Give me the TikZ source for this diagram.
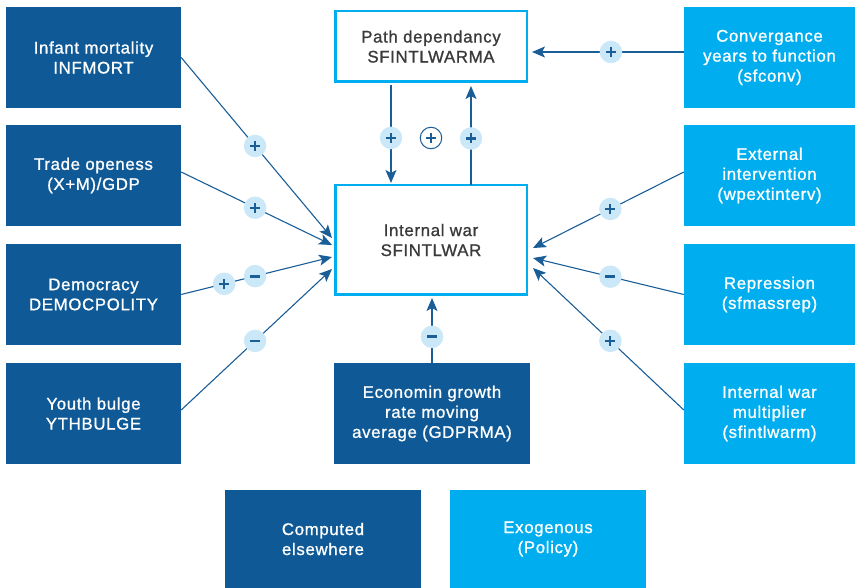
\documentclass[tikz,border=0pt]{standalone}
\usepackage{fontspec}
\setmainfont{Liberation Sans}
\newfontfamily\medf{Liberation Sans}[FakeBold=1.0, LetterSpace=4]
\usetikzlibrary{arrows.meta}
\definecolor{dkb}{HTML}{0F5A96}
\definecolor{ltb}{HTML}{00AEEF}
\definecolor{bdg}{HTML}{CBE8F8}
\definecolor{arr}{HTML}{1A5E98}
\definecolor{txt}{HTML}{3A3A3A}
\newcommand\plusmk{\makebox[0pt]{\rule[-1.1pt]{10pt}{2.2pt}}\makebox[0pt]{\rule[-5pt]{2.2pt}{10pt}}}
\newcommand\thinplusmk{\makebox[0pt]{\rule[-0.75pt]{10pt}{1.5pt}}\makebox[0pt]{\rule[-5pt]{1.5pt}{10pt}}}
\newcommand\minusmk{\makebox[0pt]{\rule[-1.4pt]{10pt}{2.8pt}}}
\begin{document}
\begin{tikzpicture}[x=1pt,y=-1pt,
 box/.style={inner sep=0pt, align=center, text=white, font=\medf\fontsize{16.8}{20}\selectfont},
 dkbox/.style={box, fill=dkb, minimum width=175pt, minimum height=101pt},
 ltbox/.style={box, fill=ltb, minimum width=171pt, minimum height=101pt},
 wbox/.style={box, draw=ltb, line width=2.5pt, fill=white, text=txt, minimum width=191.5pt},
 conn/.style={draw=arr, line width=1.1pt, -{Stealth[length=13pt,width=11pt,inset=3pt]}},
 badge/.style={circle, fill=bdg, minimum size=22.5pt, inner sep=0pt, text=arr},
]
\useasboundingbox (0,0) rectangle (855,588);
% left column
\node[dkbox] (inf) at (93.5,57.5) {Infant mortality\\INFMORT};
\node[dkbox] (trade) at (93.5,175.5) {Trade openess\\(X+M)/GDP};
\node[dkbox] (dem) at (93.5,294.5) {Democracy\\DEMOCPOLITY};
\node[dkbox] (youth) at (93.5,413.5) {Youth bulge\\YTHBULGE};
% right column
\node[ltbox] (conv) at (769.5,57.5) {Convergance\\years to function\\(sfconv)};
\node[ltbox] (ext) at (769.5,175.5) {External\\intervention\\(wpextinterv)};
\node[ltbox] (rep) at (769.5,294.5) {Repression\\(sfmassrep)};
\node[ltbox] (mult) at (769.5,413.5) {Internal war\\multiplier\\(sfintlwarm)};
% centre
\node[wbox, minimum height=70.5pt] (pd) at (431,46.5) {Path dependancy\\SFINTLWARMA};
\node[wbox, minimum height=109.5pt] (iw) at (431,240) {Internal war\\SFINTLWAR};
\node[box, fill=dkb, minimum width=196pt, minimum height=101pt] (eco) at (432,413.5) {Economin growth\\rate moving\\average (GDPRMA)};
% legend
\node[box, fill=dkb, minimum width=196pt, minimum height=98pt] (comp) at (323,539) {Computed\\elsewhere};
\node[box, fill=ltb, minimum width=196pt, minimum height=98pt] (exo) at (548,539) {Exogenous\\(Policy)};
% left connectors
\draw[conn] (inf.east) -- ([xshift=-2pt,yshift=2pt]iw.west) node[badge, pos=0.49] (b1) {\plusmk};
\draw[conn] ([yshift=3.5pt]trade.east) -- ([xshift=-2pt,yshift=-5pt]iw.west) node[badge, pos=0.49] (b2) {\plusmk};
\draw[conn] (dem.east) -- ([xshift=-2pt,yshift=-17pt]iw.west) node[badge, pos=0.285] (b3) {\plusmk} node[badge, pos=0.49] (b4) {\minusmk};
\draw[conn] ([yshift=3.5pt]youth.east) -- ([xshift=-2pt,yshift=-29pt]iw.west) node[badge, pos=0.49] (b5) {\minusmk};
% right connectors
\draw[conn] ([yshift=5.5pt]conv.west) -- ([xshift=4pt,yshift=-5.5pt]pd.east) node[badge, pos=0.48] (b6) {\plusmk};
\draw[conn] ([yshift=3.5pt]ext.west) -- ([xshift=5pt,yshift=-8pt]iw.east) node[badge, pos=0.487] (b7) {\plusmk};
\draw[conn] (rep.west) -- ([xshift=5pt,yshift=-18pt]iw.east) node[badge, pos=0.487] (b8) {\minusmk};
\draw[conn] ([yshift=3.5pt]mult.west) -- ([xshift=5pt,yshift=-28pt]iw.east) node[badge, pos=0.487] (b9) {\plusmk};
% vertical connectors
\draw[conn] ([xshift=-40pt,yshift=-2pt]pd.south) -- ([xshift=-40pt,yshift=1pt]iw.north) node[badge, pos=0.54] (b10) {\plusmk};
\draw[conn] ([xshift=40pt,yshift=-1pt]iw.north) -- ([xshift=40pt,yshift=-3pt]pd.south) node[badge, pos=0.47] (b11) {\plusmk};
\draw[conn] (eco.north) -- ([yshift=-2pt]eco.north |- iw.south) node[badge, pos=0.4] (b12) {\minusmk};
\node[circle, draw=arr, line width=1pt, fill=white, minimum size=21.5pt, inner sep=0pt, text=arr] (loop) at (431,138) {\thinplusmk};
\end{tikzpicture}
\end{document}
